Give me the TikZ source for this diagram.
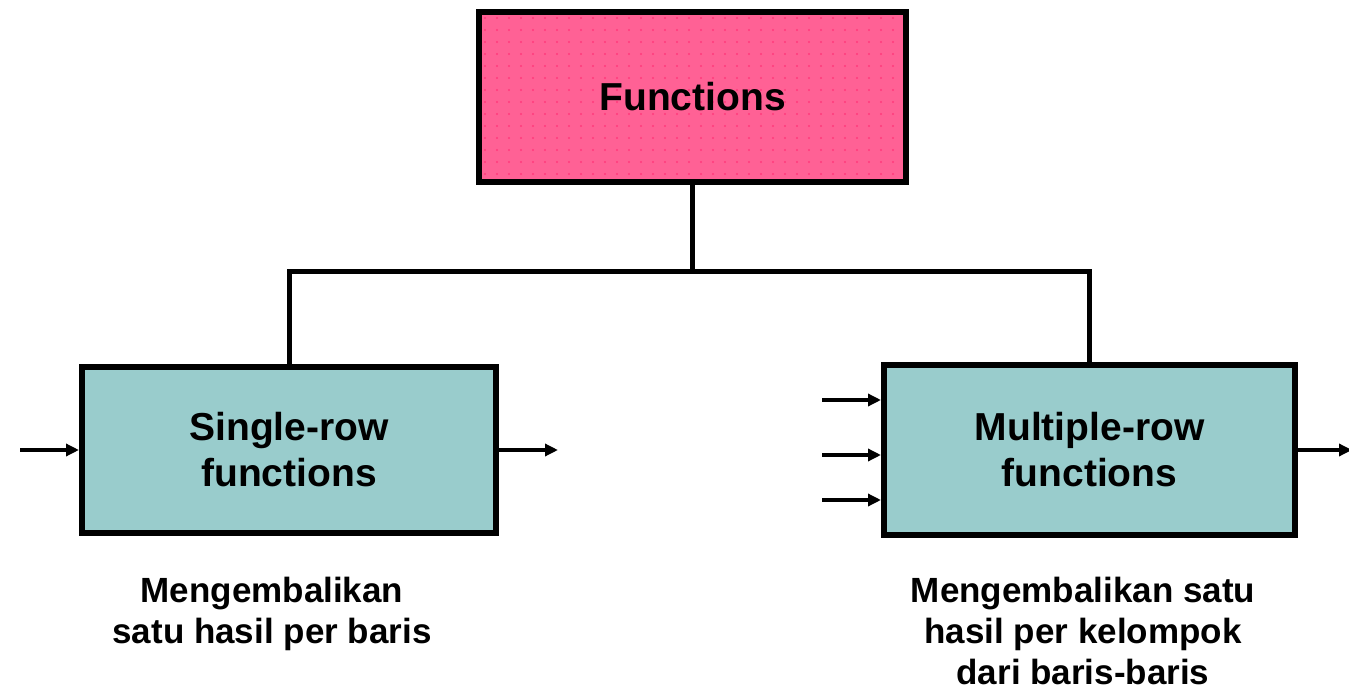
\documentclass[tikz,border=0pt]{standalone}
\usepackage{fontspec}
\setmainfont{Liberation Sans}
\usetikzlibrary{arrows.meta}
\definecolor{pinkfill}{HTML}{FF6195}
\definecolor{pinkdot}{HTML}{FF3A7C}
\definecolor{tealfill}{HTML}{99CCCC}
\tikzset{
  box/.style={draw=black, line width=6pt, align=center, inner sep=0pt,
    font=\bfseries\fontsize{39}{46}\selectfont},
  link/.style={line width=5pt},
  feed/.style={line width=4.5pt, -{Triangle[length=13pt,width=12pt]}},
  note/.style={align=center, font=\bfseries\fontsize{35}{41}\selectfont}
}
\begin{document}
\begin{tikzpicture}[x=1pt,y=-1pt]
  \useasboundingbox (0,0) rectangle (1349,692);

  % top box with dotted texture
  \node[box, fill=pinkfill, minimum width=427pt, minimum height=170pt] (fn) at (692.5,97) {};
  \begin{scope}
    \clip (482,15) rectangle (903,179);
    \foreach \i in {0,...,36} {
      \foreach \j in {0,...,14} {
        \fill[pinkdot] (485+12*\i, 18+12*\j) circle (1.1pt);
      }
    }
  \end{scope}
  \node[font=\bfseries\fontsize{39}{46}\selectfont] (fnlabel) at (fn.center) {Functions};

  % two child boxes
  \node[box, fill=tealfill, minimum width=414pt, minimum height=166pt] (single) at (289,450) {Single-row\\functions};
  \node[box, fill=tealfill, minimum width=411pt, minimum height=170pt] (multi) at (1089.5,450) {Multiple-row\\functions};

  % tree connectors
  \coordinate (split) at (692.5,272);
  \draw[link] (fn.south) -- (split);
  \draw[link, line join=miter] (split) -| (single.north);
  \draw[link, line join=miter] (split) -| (multi.north);

  % input/output arrows
  \coordinate (sin) at (20,450);
  \coordinate (sout) at (558,450);
  \draw[feed] (sin) -- (single.west);
  \draw[feed] (single.east) -- (sout);

  \coordinate (min1) at (822,400);
  \coordinate (min2) at (822,455);
  \coordinate (min3) at (822,500);
  \coordinate (mout) at (1352,450);
  \draw[feed] (min1) -- (min1 -| multi.west);
  \draw[feed] (min2) -- (min2 -| multi.west);
  \draw[feed] (min3) -- (min3 -| multi.west);
  \draw[feed] (multi.east) -- (mout);

  % descriptions
  \node[note] (snote) at (272,614) {Mengembalikan\\satu hasil per baris};
  \node[note] (mnote) at (1083,631) {Mengembalikan satu\\hasil per kelompok\\dari baris-baris};
\end{tikzpicture}
\end{document}
